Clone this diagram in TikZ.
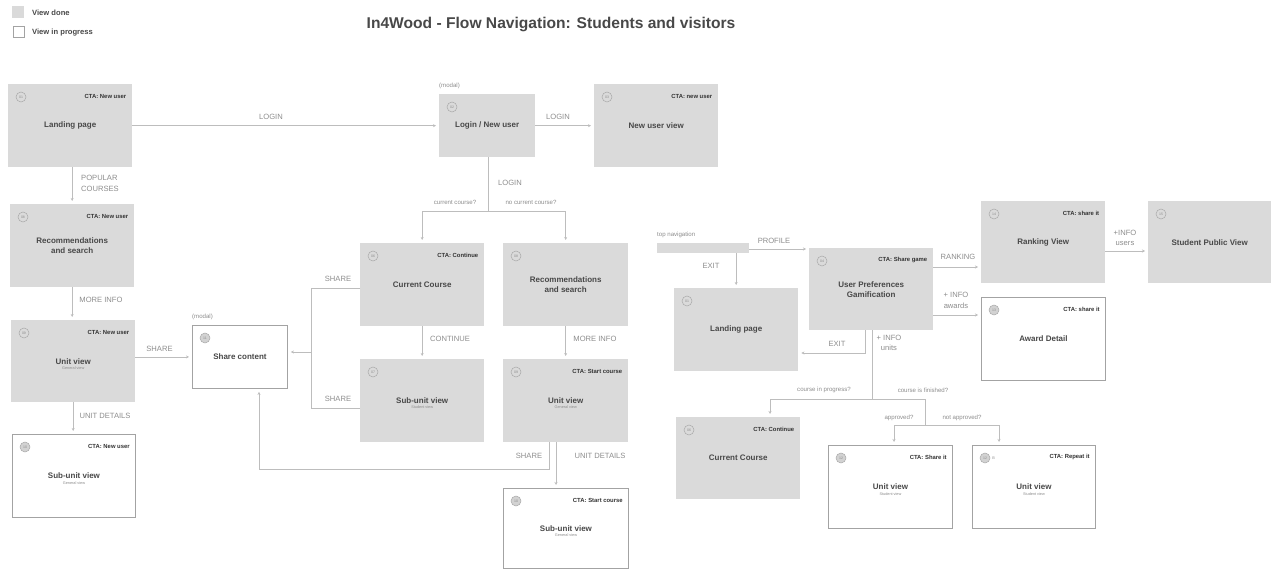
\documentclass[tikz,border=0pt]{standalone}
\usepackage{fontspec}
\setmainfont{Liberation Sans}
\usetikzlibrary{arrows.meta}
\definecolor{boxgray}{HTML}{DADADA}
\definecolor{wipline}{HTML}{A3A3A3}
\definecolor{conline}{HTML}{BDBDBD}
\definecolor{lbltext}{HTML}{8C8C8C}
\definecolor{ttltext}{HTML}{484848}
\definecolor{ctatext}{HTML}{333333}
\definecolor{numline}{HTML}{A8A8A8}
\definecolor{numfill}{HTML}{D2D2D2}
\tikzset{
  donebox/.style={rectangle, fill=boxgray, draw=none, anchor=north west, inner sep=0pt},
  wipbox/.style={rectangle, fill=white, draw=wipline, line width=0.9pt, anchor=north west, inner sep=0pt},
  numdonebox/.style={circle, draw=numline, line width=0.5pt, inner sep=0pt, minimum size=10pt, text=lbltext, font=\fontsize{3.5}{4}\selectfont},
  numwipbox/.style={circle, draw=numline, fill=numfill, line width=0.5pt, inner sep=0pt, minimum size=10pt, text=lbltext, font=\fontsize{3.5}{4}\selectfont},
  cta/.style={anchor=east, inner sep=0pt, text=ctatext, font=\fontsize{5.9}{6.5}\selectfont\bfseries},
  ttl/.style={inner sep=0pt, align=center, text=ttltext, font=\fontsize{8}{10}\selectfont\bfseries},
  subt/.style={anchor=north, inner sep=0pt, text=lbltext, font=\fontsize{3.8}{4.5}\selectfont},
  lbl/.style={inner sep=0pt, align=center, text=lbltext, font=\fontsize{7.6}{10.5}\selectfont},
  slbl/.style={inner sep=0pt, text=lbltext, font=\fontsize{6.1}{7}\selectfont},
  conn/.style={draw=conline, line width=0.8pt},
  arr/.style={conn, -{Stealth[length=3pt,width=3pt]}, shorten >=3pt},
}
\newcommand{\mkview}[9]{%
  \node[#2, minimum width=#4pt, minimum height=#5pt] (#1) at (#3) {};
  \node[num#2] (#1-n) at ([xshift=13pt,yshift=-13pt]#1.north west) {#6};
  \node[cta] (#1-c) at ([xshift=-6pt,yshift=-12pt]#1.north east) {#7};
  \node[ttl] (#1-t) at (#1.center) {#8};
  \node[subt] (#1-s) at ([yshift=-2pt]#1-t.south) {#9};
}
\begin{document}
\begin{tikzpicture}[x=1pt,y=-1pt]
\useasboundingbox (0,0) rectangle (1271,569);

% legend
\node[donebox, minimum size=12pt] (lg1) at (12,6) {};
\node[wipbox, minimum size=11pt] (lg2) at (12.5,26.5) {};
\node[anchor=west, inner sep=0pt, text=ttltext, font=\fontsize{7.6}{8}\selectfont\bfseries] (lg1t) at (32,12.5) {View done};
\node[anchor=west, inner sep=0pt, text=ttltext, font=\fontsize{7.6}{8}\selectfont\bfseries] (lg2t) at (32,32.5) {View in progress};

% title
\node[inner sep=0pt, text=ttltext, font=\fontsize{15.6}{18}\selectfont\bfseries] (title) at (551,25) {In4Wood - Flow Navigation: Students and visitors};

% views
\mkview{lp}{donebox}{8,84}{124}{83}{01}{CTA: New user}{Landing page}{}
\mkview{login}{donebox}{439,94}{96}{63}{02}{}{Login / New user}{}
\mkview{nu}{donebox}{594,84}{124}{83}{03}{CTA: new user}{New user view}{}
\mkview{recL}{donebox}{10,204}{124}{83}{08}{CTA: New user}{Recommendations\\and search}{}
\mkview{unitL}{donebox}{11,320}{124}{82}{09}{CTA: New user}{Unit view}{General view}
\mkview{subL}{wipbox}{12,434}{123}{83}{10}{CTA: New user}{Sub-unit view}{General view}
\mkview{share}{wipbox}{192,325}{95}{63}{11}{}{Share content}{}
\mkview{cc}{donebox}{360,243}{124}{83}{06}{CTA: Continue}{Current Course}{}
\mkview{recM}{donebox}{503,243}{125}{83}{08}{}{Recommendations\\and search}{}
\mkview{sub7}{donebox}{360,359}{124}{83}{07}{}{Sub-unit view}{Student view}
\mkview{unitM}{donebox}{503,359}{125}{83}{09}{CTA: Start course}{Unit view}{General view}
\mkview{subM}{wipbox}{503,488}{125}{80}{10}{CTA: Start course}{Sub-unit view}{General view}
\node[donebox, minimum width=92pt, minimum height=10pt] (topnav) at (657,243) {};
\mkview{lpR}{donebox}{674,288}{124}{83}{01}{}{Landing page}{}
\mkview{up}{donebox}{809,248}{124}{82}{04}{CTA: Share game}{User Preferences\\Gamification}{}
\mkview{rank}{donebox}{981,201}{124}{82}{14}{CTA: share it}{Ranking View}{}
\mkview{spv}{donebox}{1148,201}{123}{82}{15}{}{Student Public View}{}
\mkview{award}{wipbox}{981,297}{124}{83}{13}{CTA: share it}{Award Detail}{}
\mkview{ccR}{donebox}{676,417}{124}{82}{06}{CTA: Continue}{Current Course}{}
\mkview{uA}{wipbox}{828,445}{124}{83}{12}{CTA: Share it}{Unit view}{Student view}
\mkview{uB}{wipbox}{972,445}{123}{83}{12}{CTA: Repeat it}{Unit view}{Student view}
\node[anchor=west, inner sep=0pt, text=lbltext, font=\fontsize{3.8}{4.5}\selectfont] (uB-b) at ([xshift=2pt]uB-n.east) {B};

% small labels
\node[slbl, anchor=south west] (modal1) at (439,89) {(modal)};
\node[slbl, anchor=south west] (modal2) at (192,320) {(modal)};
\node[slbl, anchor=south west] (tnl) at (657,238) {top navigation};

% connectors: left part
\draw[arr] (lp) -- (login);
\node[lbl] (l1) at (271,117) {LOGIN};
\draw[arr] (login) -- (nu);
\node[lbl] (l2) at (558,117) {LOGIN};

\coordinate (lb) at (488,211);
\draw[conn] (lb |- login.south) -- (lb);
\draw[arr] (lb) -| (cc.north);
\draw[arr] (lb) -| (recM.north);
\node[lbl] (l3) at (510,183) {LOGIN};
\node[slbl] (l4) at (455,202) {current course?};
\node[slbl] (l5) at (531,202) {no current course?};

\draw[arr] (recL.north |- lp.south) -- (recL.north);
\node[lbl, align=left, anchor=west] (l6) at (81,183.5) {POPULAR\\COURSES};
\draw[arr] (recL.south) -- (recL.south |- unitL.north);
\node[lbl] (l7) at (101,300) {MORE INFO};
\draw[arr] (unitL.south) -- (unitL.south |- subL.north);
\node[lbl] (l8) at (105,416) {UNIT DETAILS};
\draw[arr] (unitL.east |- share.west) -- (share.west);
\node[lbl] (l9) at (159.5,349) {SHARE};

\coordinate (j1) at (311,288);
\coordinate (j2) at (311,408);
\coordinate (j3) at (311,352);
\draw[conn] (cc.west |- j1) -- (j1) -- (j2) -- (sub7.west |- j2);
\draw[arr] (j3) -- (share.east |- j3);
\node[lbl] (l10) at (338,279) {SHARE};
\node[lbl] (l11) at (338,399) {SHARE};

\draw[arr] (cc.south) -- (cc.south |- sub7.north);
\node[lbl] (l12) at (450,339) {CONTINUE};
\draw[arr] (recM.south) -- (recM.south |- unitM.north);
\node[lbl] (l13) at (595,339) {MORE INFO};

\coordinate (k1) at (549,469);
\coordinate (k2) at (259,469);
\draw[arr] (unitM.south -| k1) -- (k1) -- (k2) -- (k2 |- share.south);
\node[lbl] (l14) at (529,456) {SHARE};
\coordinate (m1) at (556,442);
\draw[arr] (m1 |- unitM.south) -- (m1 |- subM.north);
\node[lbl] (l15) at (600,456) {UNIT DETAILS};

% connectors: right part
\coordinate (p1) at (749,249);
\draw[arr] (p1) -- (p1 -| up.west);
\node[lbl] (r1) at (774,241) {PROFILE};
\draw[arr] (topnav.south -| lpR.north) -- (lpR.north);
\node[lbl] (r2) at (711,266) {EXIT};
\coordinate (e1) at (865,353);
\draw[arr] (e1 |- up.south) -- (e1) -- (e1 -| lpR.east);
\node[lbl] (r3) at (837,344) {EXIT};

\coordinate (q1) at (933,267);
\draw[arr] (q1) -- (q1 -| rank.west);
\node[lbl] (r4) at (958,257) {RANKING};
\coordinate (q2) at (933,315);
\draw[arr] (q2) -- (q2 -| award.west);
\node[lbl] (r5) at (956,300.5) {+ INFO\\awards};
\coordinate (q3) at (1105,251);
\draw[arr] (q3) -- (q3 -| spv.west);
\node[lbl] (r6) at (1125,238) {+INFO\\users};

\coordinate (b1) at (872,399);
\coordinate (b1L) at (770,399);
\coordinate (b1R) at (925,399);
\draw[conn] (b1 |- up.south) -- (b1);
\node[lbl] (r7) at (889,343) {+ INFO\\units};
\draw[arr] (b1R) -- (b1L) -- (b1L |- ccR.north);
\node[slbl] (r8) at (824,390) {course in progress?};
\node[slbl] (r9) at (923,390) {course is finished?};
\coordinate (b2) at (925,425);
\coordinate (b2L) at (894,425);
\coordinate (b2R) at (999,425);
\draw[conn] (b1R) -- (b2);
\draw[arr] (b2R) -- (b2L) -- (b2L |- uA.north);
\draw[arr] (b2L) -- (b2R) -- (b2R |- uB.north);
\node[slbl] (r10) at (899,418) {approved?};
\node[slbl] (r11) at (962,418) {not approved?};
\end{tikzpicture}
\end{document}
